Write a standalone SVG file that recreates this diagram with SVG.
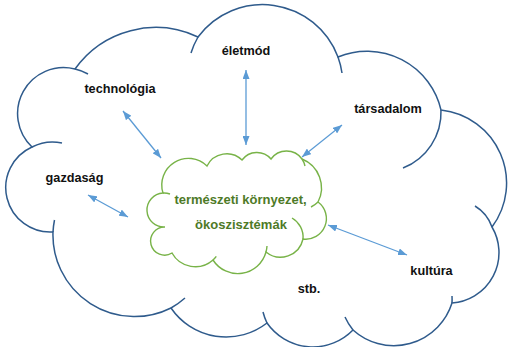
<svg xmlns="http://www.w3.org/2000/svg" width="509" height="347" viewBox="0 0 509 347">
<style>
.outer{fill:#ffffff;stroke:#2f5b8c;stroke-width:1.5}
.inner{fill:none;stroke:#2f5b8c;stroke-width:1.5}
.gouter{fill:#ffffff;stroke:#78b348;stroke-width:1.4}
.ginner{fill:none;stroke:#78b348;stroke-width:1.4}
.lbl{font-family:"Liberation Sans",Arial,sans-serif;font-weight:bold;font-size:12.7px;fill:#111111;text-anchor:middle}
.glbl{font-family:"Liberation Sans",Arial,sans-serif;font-weight:bold;font-size:13px;fill:#4e7a27;text-anchor:middle}
.arr{stroke:#5b9bd5;stroke-width:1.3;fill:none;marker-start:url(#ah);marker-end:url(#ah)}
</style>
<defs>
<marker id="ah" viewBox="0 0 10 10" refX="10" refY="5" markerWidth="9" markerHeight="7" markerUnits="userSpaceOnUse" orient="auto-start-reverse" preserveAspectRatio="none">
<path d="M0,0 L10,5 L0,10 z" fill="#5b9bd5"/>
</marker>
</defs>
<rect width="509" height="347" fill="#ffffff"/>
<g id="big-cloud">
<path class="outer" d="M32,147 A46,46 0 0 1 75,69 A99,99 0 0 1 198,37 A80.5,80.5 0 0 1 338,57 A76,76 0 0 1 441,110 A73.5,73.5 0 0 1 492,227 A50.5,50.5 0 0 1 452,303 A61,61 0 0 1 353,330 A56,56 0 0 1 267,323 A66.7,66.7 0 0 1 171,308 A81.6,81.6 0 0 1 53,232 A44.5,44.5 0 0 1 32,147 Z"/>
<path class="inner" d="M32,147 A44.5,44.5 0 0 1 62,143 M75,69 A46,46 0 0 1 88,74 M191,53 A80.5,80.5 0 0 1 198,37 M338,57 A80.5,80.5 0 0 1 342,73 M441,110 A60,60 0 0 1 403,168 M475,206 A40,40 0 0 1 492,227 M452,296 A61,61 0 0 1 452,303 M353,330 A61,61 0 0 1 345,317 M267,323 A56,56 0 0 1 263,312 M185,298 A81.6,81.6 0 0 1 171,308 M53,232 A81.6,81.6 0 0 1 54.5,220"/>
</g>
<g id="green-cloud">
<path class="gouter" d="M163,193 A26.6,26.6 0 0 1 207,166 A22,22 0 0 1 242,160 A18.5,18.5 0 0 1 271,159 A19,19 0 0 1 302,159 A31,31 0 0 1 318,202 A20.6,20.6 0 0 1 303,239 A23,23 0 0 1 266,252 A29.3,29.3 0 0 1 213,260 A26.6,26.6 0 0 1 172,253 A14.05,14.05 0 1 1 165,227 A17,17 0 0 1 163,193 Z"/>
<path class="ginner" d="M163,193 A17,17 0 0 1 170,194 M302,159 A19,19 0 0 1 305,166 M318,202 A25,25 0 0 1 311,207 M292,218 A22,22 0 0 1 303,239 M267,246 A29.3,29.3 0 0 1 266,252 M216.3,256.4 A26.6,26.6 0 0 1 213,260"/>
<text class="glbl" x="240.5" y="204">természeti környezet,</text>
<text class="glbl" x="241" y="229">ökoszisztémák</text>
</g>
<g id="eletmod"><text class="lbl" x="246" y="55">életmód</text></g>
<g id="technologia"><text class="lbl" x="120" y="93">technológia</text></g>
<g id="tarsadalom"><text class="lbl" x="388" y="113">társadalom</text></g>
<g id="gazdasag"><text class="lbl" x="74.5" y="182">gazdaság</text></g>
<g id="kultura"><text class="lbl" x="431.5" y="275">kultúra</text></g>
<g id="stb"><text class="lbl" x="309" y="293">stb.</text></g>
<g id="connectors">
<line class="arr" x1="123" y1="111" x2="161" y2="158"/>
<line class="arr" x1="246" y1="70" x2="246" y2="145"/>
<line class="arr" x1="342" y1="125" x2="302" y2="157"/>
<line class="arr" x1="88" y1="195" x2="128" y2="217"/>
<line class="arr" x1="328" y1="225" x2="407" y2="255"/>
</g>
</svg>
